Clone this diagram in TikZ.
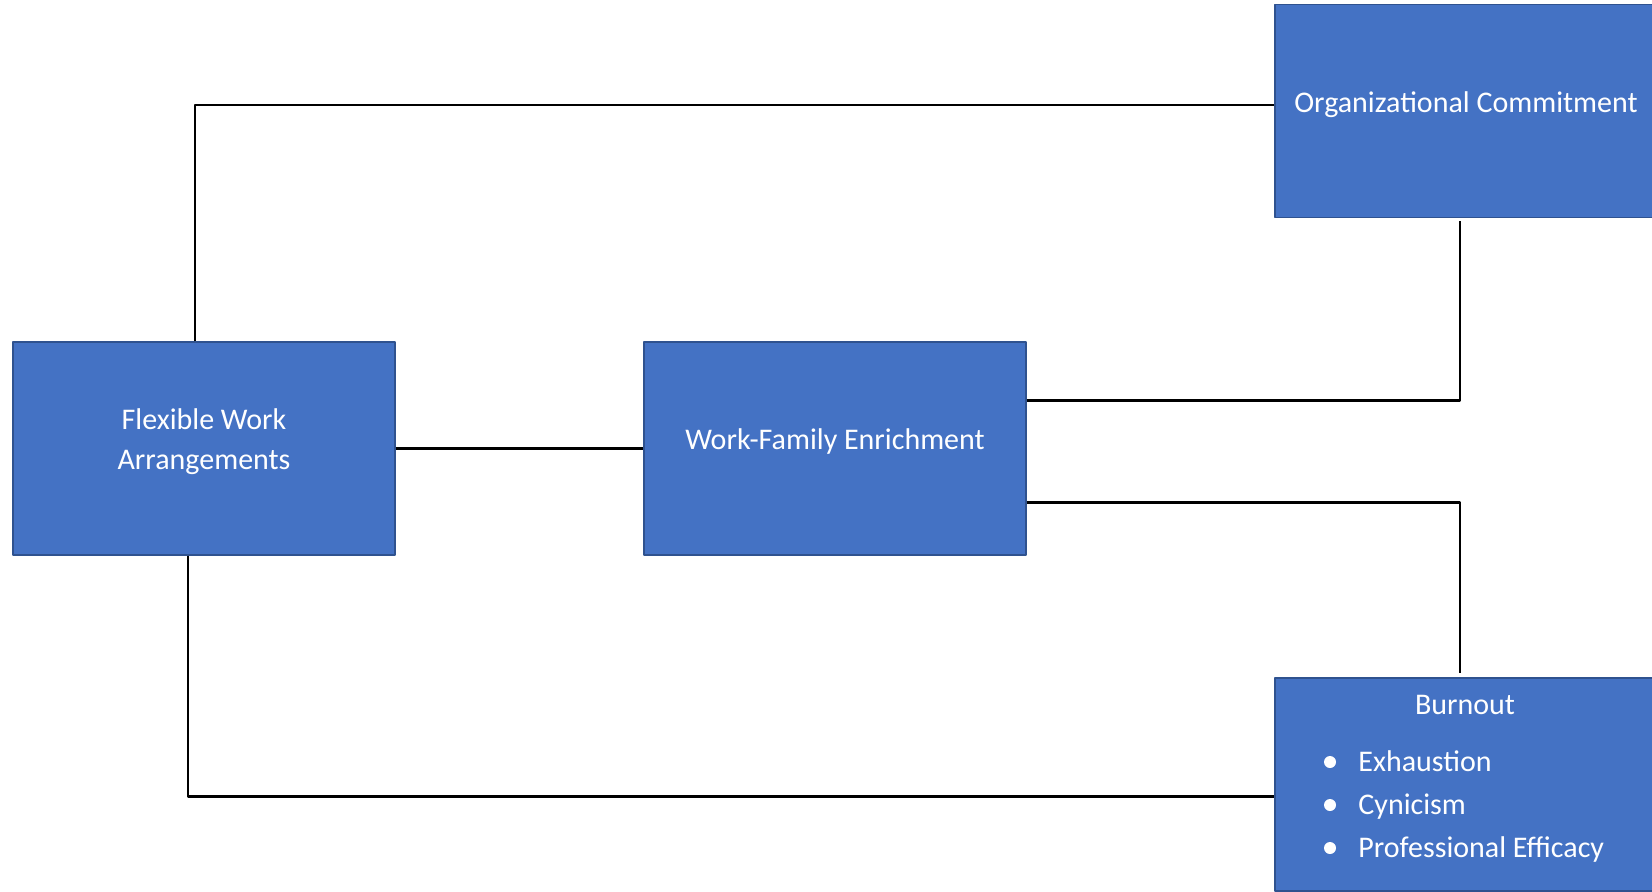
\documentclass[tikz,border=0pt]{standalone}
\usepackage{fontspec}
\setmainfont{Carlito}
\definecolor{boxblue}{HTML}{4472C4}
\definecolor{boxedge}{HTML}{2F528F}
\tikzset{
	box/.style={draw=boxedge,line width=0.6pt,fill=boxblue,text=white,minimum width=191pt,minimum height=106.5pt,inner sep=0pt,align=center,text depth=9pt},
	boxtxt/.style={text=white,inner sep=0pt},
	link/.style={draw=black,line width=1.2pt}
}
\begin{document}
\begin{tikzpicture}[x=0.5pt,y=-0.5pt,line join=round,font=\fontsize{15}{20}\selectfont]
	\useasboundingbox (0,0) rectangle (1652,891);
	\node[box] (fwa) at (204,448.5) {Flexible Work\\Arrangements};
	\node[box] (wfe) at (835,448.5) {Work-Family Enrichment};
	\node[box] (oc) at (1466,111) {Organizational Commitment};
	\node[box] (burn) at (1466,784.5) {};
	\node[boxtxt,anchor=base] at (1465,714) {Burnout};
	\foreach \y/\lbl in {762/Exhaustion,805/Cynicism,848/Professional Efficacy}{
		\fill[white] (1330,\y) circle (3pt);
		\node[boxtxt,anchor=base west] at (1358,\y+9) {\lbl};
	}
	% connectors
	\draw[link] ([xshift=-4.5pt]fwa.north) |- ([yshift=3pt]oc.west);
	\draw[link] (fwa.east) -- (wfe.west);
	\draw[link] ([yshift=24pt]wfe.east) -| ([xshift=-3pt,yshift=-1.5pt]oc.south);
	\draw[link] ([yshift=-27pt]wfe.east) -| ([xshift=-3pt,yshift=2pt]burn.north);
	\draw[link] ([xshift=-8pt]fwa.south) |- ([yshift=-6pt]burn.west);
\end{tikzpicture}
\end{document}
